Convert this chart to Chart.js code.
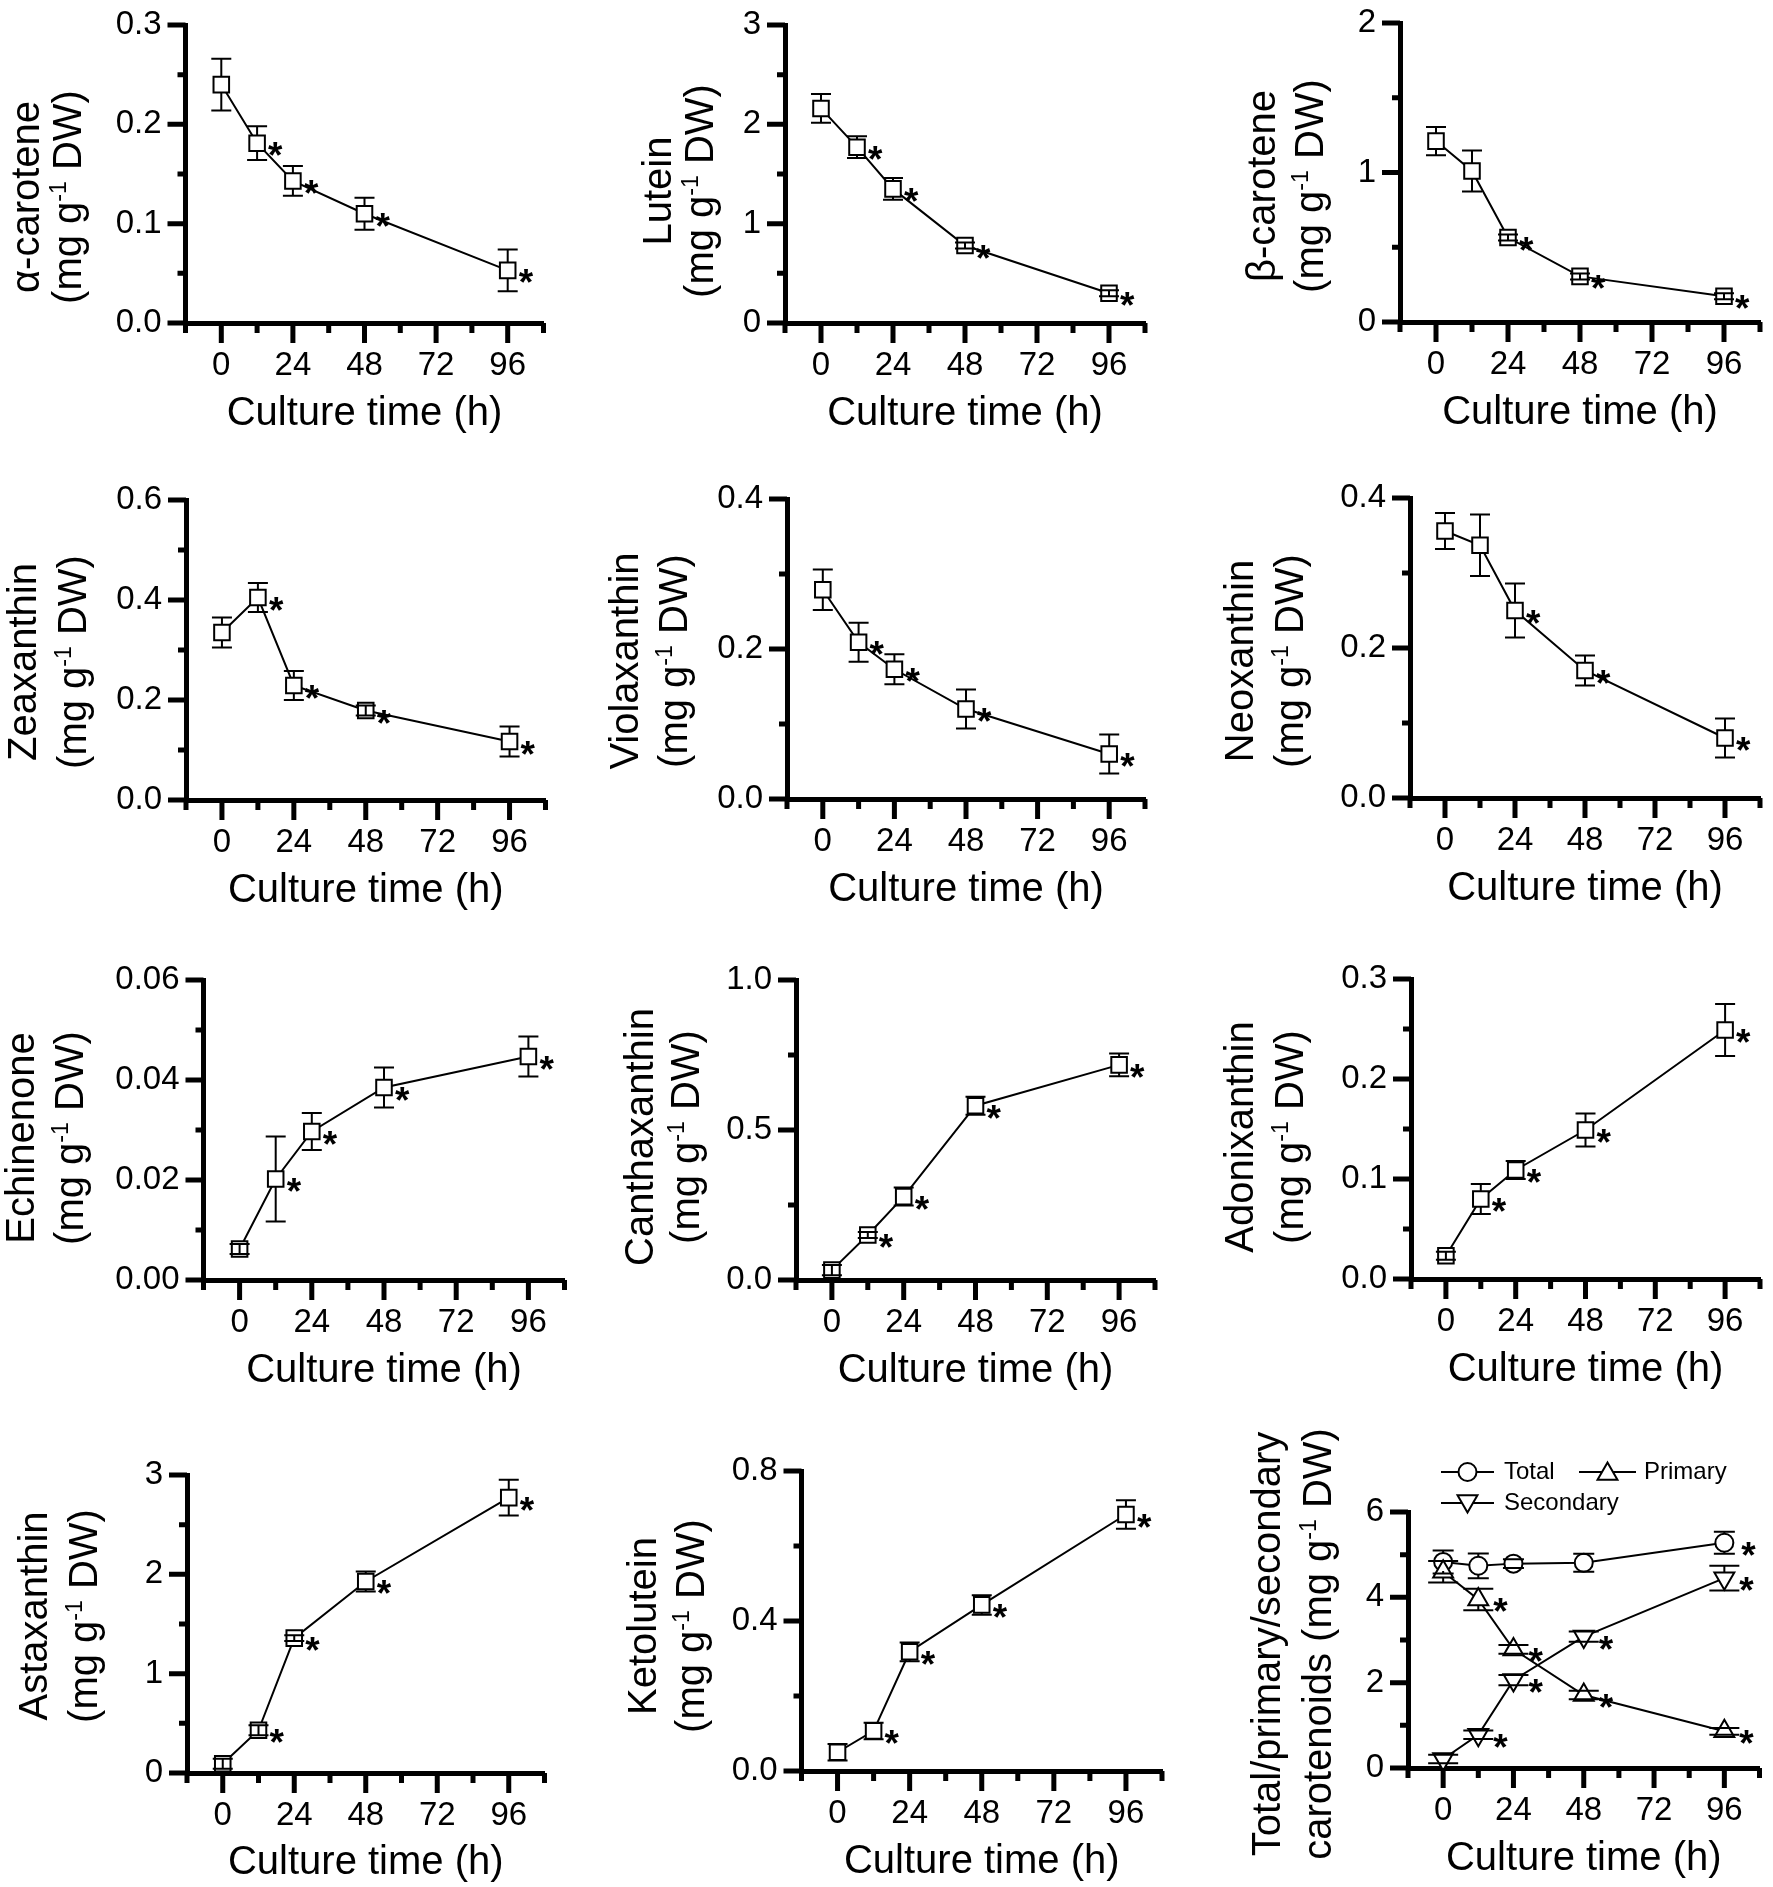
<!DOCTYPE html>
<html lang="en">
<head>
<meta charset="UTF-8">
<title>Carotenoids vs culture time</title>
<script src="https://cdn.jsdelivr.net/npm/chart.js"></script>
<style>
  body { margin: 0; background: #fff; }
  #page { position: relative; width: 1773px; height: 1887px; background: #fff; }
  #page canvas { position: absolute; }
</style>
</head>
<body>
<div id="page"></div>
<script>
// ---- data (mean, error, significance) ----
const hours = [0, 12, 24, 48, 96];
const xTickLabels = [0, 24, 48, 72, 96];

const alphaCarotene     = [0.240, 0.181, 0.143, 0.110, 0.053];
const alphaCaroteneErr  = [0.026, 0.017, 0.015, 0.016, 0.021];
const alphaCaroteneStar = [0, 1, 1, 1, 1];

const lutein     = [2.16, 1.77, 1.35, 0.78, 0.30];
const luteinErr  = [0.145, 0.11, 0.11, 0.03, 0.03];
const luteinStar = [0, 1, 1, 1, 1];

const betaCarotene     = [1.21, 1.01, 0.565, 0.305, 0.172];
const betaCaroteneErr  = [0.095, 0.137, 0.02, 0.02, 0.02];
const betaCaroteneStar = [0, 0, 1, 1, 1];

const zeaxanthin     = [0.335, 0.405, 0.229, 0.179, 0.117];
const zeaxanthinErr  = [0.03, 0.029, 0.029, 0.01, 0.03];
const zeaxanthinStar = [0, 1, 1, 1, 1];

const violaxanthin     = [0.279, 0.209, 0.173, 0.120, 0.060];
const violaxanthinErr  = [0.027, 0.026, 0.02, 0.026, 0.026];
const violaxanthinStar = [0, 1, 1, 1, 1];

const neoxanthin     = [0.356, 0.337, 0.250, 0.170, 0.080];
const neoxanthinErr  = [0.024, 0.041, 0.036, 0.02, 0.026];
const neoxanthinStar = [0, 0, 1, 1, 1];

const echinenone     = [0.0062, 0.0202, 0.0297, 0.0385, 0.0447];
const echinenoneErr  = [0.001, 0.0085, 0.0037, 0.004, 0.004];
const echinenoneStar = [0, 1, 1, 1, 1];

const canthaxanthin     = [0.033, 0.150, 0.278, 0.581, 0.717];
const canthaxanthinErr  = [0.017, 0.01, 0.03, 0.03, 0.038];
const canthaxanthinStar = [0, 1, 1, 1, 1];

const adonixanthin     = [0.0233, 0.080, 0.109, 0.149, 0.249];
const adonixanthinErr  = [0.004, 0.015, 0.009, 0.0165, 0.026];
const adonixanthinStar = [0, 1, 1, 1, 1];

const astaxanthin     = [0.094, 0.43, 1.358, 1.928, 2.772];
const astaxanthinErr  = [0.05, 0.05, 0.03, 0.1, 0.18];
const astaxanthinStar = [0, 1, 1, 1, 1];

const ketolutein     = [0.050, 0.107, 0.318, 0.443, 0.684];
const ketoluteinErr  = [0.022, 0.022, 0.025, 0.026, 0.038];
const ketoluteinStar = [0, 1, 1, 1, 1];

const totalCar      = [4.83, 4.74, 4.79, 4.81, 5.28];
const totalCarErr   = [0.27, 0.29, 0.1, 0.21, 0.26];
const totalCarStar  = [0, 0, 0, 0, 1];
const primaryCar     = [4.60, 3.95, 2.78, 1.71, 0.86];
const primaryCarErr  = [0.25, 0.25, 0.1, 0.1, 0.08];
const primaryCarStar = [0, 1, 1, 1, 1];
const secondaryCar     = [0.21, 0.78, 2.06, 3.08, 4.45];
const secondaryCarErr  = [0.1, 0.1, 0.12, 0.12, 0.29];
const secondaryCarStar = [0, 1, 1, 1, 1];

// ---- layout ----
const FONT = "'Liberation Sans', Arial, Helvetica, sans-serif";
const colLeft = [0, 590, 1180], colW = [590, 590, 593];
const rowTop = [0, 460, 940, 1410], rowH = [460, 480, 470, 477];
const AXIS_W = 5;

function sq(values, err, star) {
  return { values, err, star, style: 'rect', r: 11, rot: 0, cap: 10, up: 7.8, down: 7.8, plus: true, starDx: 11 };
}

const panels = [
  { name: 'α-carotene', unit: '(mg g', series: [sq(alphaCarotene, alphaCaroteneErr, alphaCaroteneStar)],
    yMax: 0.3, major: 0.1, minor: 0.05, dec: 1, col: 0, row: 0, area: [185.5, 25, 543.5, 323], title: [28, 70, 197] },
  { name: 'Lutein', unit: '(mg g', series: [sq(lutein, luteinErr, luteinStar)],
    yMax: 3, major: 1, minor: 0.5, dec: 0, col: 1, row: 0, area: [785, 25, 1145, 323], title: [660, 702, 191] },
  { name: 'β-carotene', unit: '(mg g', series: [sq(betaCarotene, betaCaroteneErr, betaCaroteneStar)],
    yMax: 2, major: 1, minor: 0.5, dec: 0, col: 2, row: 0, area: [1400, 23, 1760, 322], title: [1264, 1312, 186] },
  { name: 'Zeaxanthin', unit: '(mg g', series: [sq(zeaxanthin, zeaxanthinErr, zeaxanthinStar)],
    yMax: 0.6, major: 0.2, minor: 0.1, dec: 1, col: 0, row: 1, area: [186, 500, 545.5, 800], title: [25, 75, 662] },
  { name: 'Violaxanthin', unit: '(mg g', series: [sq(violaxanthin, violaxanthinErr, violaxanthinStar)],
    yMax: 0.4, major: 0.2, minor: 0.1, dec: 1, col: 1, row: 1, area: [787, 499, 1145, 799], title: [627, 676, 661] },
  { name: 'Neoxanthin', unit: '(mg g', series: [sq(neoxanthin, neoxanthinErr, neoxanthinStar)],
    yMax: 0.4, major: 0.2, minor: 0.1, dec: 1, col: 2, row: 1, area: [1410, 498, 1767, 798], title: [1242, 1292, 661] },
  { name: 'Echinenone', unit: '(mg g', series: [sq(echinenone, echinenoneErr, echinenoneStar)],
    yMax: 0.06, major: 0.02, minor: 0.01, dec: 2, col: 0, row: 2, area: [203.5, 980, 564.5, 1280], title: [23, 72, 1138] },
  { name: 'Canthaxanthin', unit: '(mg g', series: [sq(canthaxanthin, canthaxanthinErr, canthaxanthinStar)],
    yMax: 1.0, major: 0.5, minor: 0.25, dec: 1, col: 1, row: 2, area: [796, 980, 1155, 1280], title: [642, 688, 1137] },
  { name: 'Adonixanthin', unit: '(mg g', series: [sq(adonixanthin, adonixanthinErr, adonixanthinStar)],
    yMax: 0.3, major: 0.1, minor: 0.05, dec: 1, col: 2, row: 2, area: [1411, 979, 1771, 1279], title: [1242, 1292, 1137] },
  { name: 'Astaxanthin', unit: '(mg g', series: [sq(astaxanthin, astaxanthinErr, astaxanthinStar)],
    yMax: 3, major: 1, minor: 0.5, dec: 0, col: 0, row: 3, area: [187, 1475, 544.5, 1773], title: [36, 86, 1616] },
  { name: 'Ketolutein', unit: '(mg g', series: [sq(ketolutein, ketoluteinErr, ketoluteinStar)],
    yMax: 0.8, major: 0.4, minor: 0.2, dec: 1, col: 1, row: 3, area: [801.5, 1471, 1162, 1771], title: [645, 693, 1626] },
  { name: 'Total/primary/secondary', unit: 'carotenoids (mg g',
    series: [
      { label: 'Primary', values: primaryCar, err: primaryCarErr, star: primaryCarStar, style: 'triangle', r: 11.5, rot: 0, cap: 15, up: 11.5, down: 5.7, starDx: 15 },
      { label: 'Total', values: totalCar, err: totalCarErr, star: totalCarStar, style: 'circle', r: 9, rot: 0, cap: 10.5, up: 9, down: 9, starDx: 17 },
      { label: 'Secondary', values: secondaryCar, err: secondaryCarErr, star: secondaryCarStar, style: 'triangle', r: 11.5, rot: 180, cap: 15, up: 5.7, down: 11.5, starDx: 15 }
    ],
    legend: [
      { s: 1, x1: 1441, x2: 1494, tx: 1504, y: 1472 },
      { s: 0, x1: 1579, x2: 1636, tx: 1644, y: 1472 },
      { s: 2, x1: 1441, x2: 1494, tx: 1504, y: 1503 }
    ],
    yMax: 6, major: 2, minor: 1, dec: 0, col: 2, row: 3, area: [1408, 1512, 1766, 1768], title: [1269, 1320, 1644] }
];

const isMajor = (v, step) => Math.abs(v / step - Math.round(v / step)) < 1e-6;

function marker(ctx, style, x, y, r, rot) {
  ctx.beginPath();
  if (style === 'circle') {
    ctx.arc(x, y, r, 0, Math.PI * 2);
  } else if (style === 'triangle') {
    let a = rot * Math.PI / 180;
    for (let k = 0; k < 3; k++) {
      const px = x + Math.sin(a) * r, py = y - Math.cos(a) * r;
      if (k === 0) ctx.moveTo(px, py); else ctx.lineTo(px, py);
      a += 2 * Math.PI / 3;
    }
    ctx.closePath();
  } else {
    const h = r * Math.SQRT1_2;
    ctx.rect(x - h, y - h, 2 * h, 2 * h);
  }
  ctx.fillStyle = '#fff';
  ctx.fill();
  ctx.stroke();
}

function decor(p) {
  const ox = colLeft[p.col], oy = rowTop[p.row];
  return {
    id: 'decor',
    afterDatasetsDraw(chart) {
      const ctx = chart.ctx, xs = chart.scales.x, ys = chart.scales.y;
      ctx.save();
      ctx.strokeStyle = '#000';
      ctx.fillStyle = '#000';
      ctx.lineWidth = 2;
      p.series.forEach(s => {
        s.values.forEach((v, i) => {
          const px = xs.getPixelForValue(hours[i]);
          const py = ys.getPixelForValue(v);
          const hi = ys.getPixelForValue(v + s.err[i]);
          const lo = ys.getPixelForValue(v - s.err[i]);
          ctx.beginPath();
          if (s.plus && py - hi < s.up * 0.8) {
            ctx.moveTo(px, hi); ctx.lineTo(px, lo);
          } else {
            if (py - hi > s.up) { ctx.moveTo(px, hi); ctx.lineTo(px, py - s.up); }
            if (lo - py > s.down) { ctx.moveTo(px, py + s.down); ctx.lineTo(px, lo); }
          }
          ctx.moveTo(px - s.cap, hi); ctx.lineTo(px + s.cap, hi);
          ctx.moveTo(px - s.cap, lo); ctx.lineTo(px + s.cap, lo);
          ctx.stroke();
          if (s.star[i]) {
            ctx.font = 'bold 37px ' + FONT;
            ctx.textAlign = 'left';
            ctx.textBaseline = 'alphabetic';
            ctx.fillText('*', px + s.starDx, py + 25);
          }
        });
      });
      ctx.restore();
    },
    afterDraw(chart) {
      const ctx = chart.ctx, xs = chart.scales.x, ys = chart.scales.y, a = chart.chartArea;
      ctx.save();
      // tick marks: long for labelled values, short in between
      ctx.strokeStyle = '#000';
      ctx.lineWidth = AXIS_W;
      ctx.beginPath();
      ys.ticks.forEach(t => {
        const py = ys.getPixelForValue(t.value);
        const len = isMajor(t.value, p.major) ? 18 : 8;
        ctx.moveTo(a.left, py); ctx.lineTo(a.left - len, py);
      });
      xs.ticks.forEach(t => {
        const px = xs.getPixelForValue(t.value);
        const len = xTickLabels.includes(t.value) ? 20 : 10;
        ctx.moveTo(px, a.bottom); ctx.lineTo(px, a.bottom + len);
      });
      ctx.stroke();

      // y title: two rotated lines, the unit with a superscript
      ctx.fillStyle = '#000';
      ctx.textBaseline = 'middle';
      const big = '40px ' + FONT, small = '23px ' + FONT;
      ctx.save();
      ctx.translate(p.title[0] - ox, p.title[2] - oy);
      ctx.rotate(-Math.PI / 2);
      ctx.font = big;
      ctx.textAlign = 'center';
      ctx.fillText(p.name, 0, 0);
      ctx.restore();

      ctx.save();
      ctx.translate(p.title[1] - ox, p.title[2] - oy);
      ctx.rotate(-Math.PI / 2);
      ctx.textAlign = 'left';
      ctx.font = big;
      const w1 = ctx.measureText(p.unit).width, w3 = ctx.measureText(' DW)').width;
      ctx.font = small;
      const w2 = ctx.measureText('-1').width;
      let sx = -(w1 + w2 + w3) / 2;
      ctx.font = big; ctx.fillText(p.unit, sx, 0); sx += w1;
      ctx.font = small; ctx.fillText('-1', sx, -10); sx += w2;
      ctx.font = big; ctx.fillText(' DW)', sx, 0);
      ctx.restore();

      // legend (last panel only)
      if (p.legend) {
        ctx.lineWidth = 2;
        p.legend.forEach(item => {
          const s = p.series[item.s];
          const y = item.y - oy, x1 = item.x1 - ox, x2 = item.x2 - ox;
          ctx.beginPath();
          ctx.moveTo(x1, y); ctx.lineTo(x2, y);
          ctx.stroke();
          marker(ctx, s.style, (x1 + x2) / 2, y + (s.style === 'triangle' ? (s.rot ? -2 : 2) : 0), s.r, s.rot);
          ctx.fillStyle = '#000';
          ctx.font = '24px ' + FONT;
          ctx.textAlign = 'left';
          ctx.textBaseline = 'middle';
          ctx.fillText(s.label, item.tx - ox, y);
        });
      }
      ctx.restore();
    }
  };
}

const page = document.getElementById('page');

panels.forEach(p => {
  const left = colLeft[p.col], top = rowTop[p.row], w = colW[p.col], h = rowH[p.row];
  const [aL, aT, aR, aB] = p.area;
  const canvas = document.createElement('canvas');
  canvas.width = w;
  canvas.height = h;
  canvas.style.left = left + 'px';
  canvas.style.top = top + 'px';
  canvas.style.width = w + 'px';
  canvas.style.height = h + 'px';
  page.appendChild(canvas);

  const xTitleSize = 40;
  const titlePad = Math.max(0, h - (aB - top + 91) - xTitleSize * 1.2 / 2);

  new Chart(canvas, {
    type: 'line',
    data: {
      datasets: p.series.map(s => ({
        label: s.label || p.name,
        data: hours.map((t, i) => ({ x: t, y: s.values[i] })),
        borderColor: '#000',
        borderWidth: 2,
        tension: 0,
        fill: false,
        pointStyle: s.style,
        pointRadius: s.r,
        pointHoverRadius: s.r,
        pointRotation: s.rot,
        pointBackgroundColor: '#fff',
        pointBorderColor: '#000',
        pointBorderWidth: 2,
        clip: false
      }))
    },
    options: {
      responsive: false,
      devicePixelRatio: 1,
      animation: false,
      events: [],
      layout: { padding: { top: aT - top, right: left + w - aR, bottom: 0, left: 0 } },
      plugins: { legend: { display: false }, tooltip: { enabled: false } },
      scales: {
        x: {
          type: 'linear',
          min: -12,
          max: 108,
          afterFit: s => { s.height = top + h - aB; },
          grid: { display: false, drawTicks: true, tickLength: 23 },
          border: { display: true, width: AXIS_W, color: '#000' },
          ticks: {
            stepSize: 12,
            autoSkip: false,
            maxRotation: 0,
            padding: 0,
            color: '#000',
            font: { family: FONT, size: 33 },
            callback: v => xTickLabels.includes(v) ? String(v) : ''
          },
          title: {
            display: true,
            text: 'Culture time (h)',
            color: '#000',
            font: { family: FONT, size: xTitleSize },
            padding: { top: 0, bottom: titlePad }
          }
        },
        y: {
          type: 'linear',
          min: 0,
          max: p.yMax,
          afterFit: s => { s.width = aL - left; },
          grid: { display: false, drawTicks: true, tickLength: 24 },
          border: { display: true, width: AXIS_W, color: '#000' },
          ticks: {
            stepSize: p.minor,
            autoSkip: false,
            padding: 0,
            color: '#000',
            font: { family: FONT, size: 33 },
            callback: v => isMajor(v, p.major) ? Number(v).toFixed(p.dec) : ''
          }
        }
      }
    },
    plugins: [decor(p)]
  });
});
</script>
</body>
</html>
